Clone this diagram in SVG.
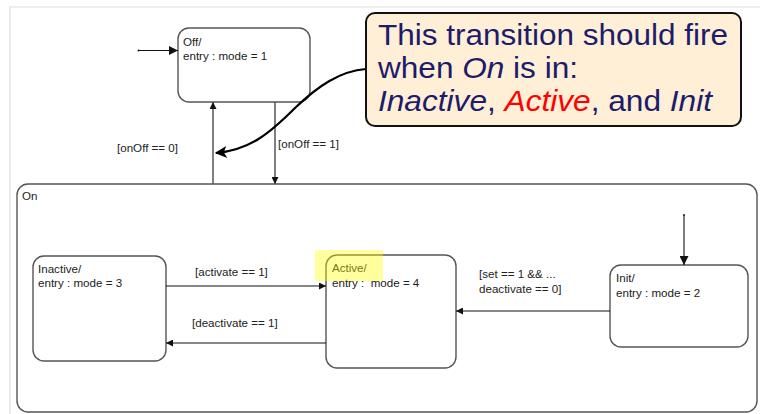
<svg xmlns="http://www.w3.org/2000/svg" width="760" height="414" viewBox="0 0 760 414">
<defs>
<style>
.state{fill:#fff;stroke:#555;stroke-width:1.4}
.lbl{font-family:"Liberation Sans",Arial,sans-serif;font-size:11.6px;fill:#222}
.conn{fill:none;stroke:#111;stroke-width:1.1}
.vconn{fill:none;stroke:#555;stroke-width:1.5}
.call{font-family:"Liberation Sans",Arial,sans-serif;font-size:29px;fill:#1c1c6a}
</style>
<marker id="ah" viewBox="0 0 10 10" refX="10" refY="5" markerWidth="7" markerHeight="7" markerUnits="userSpaceOnUse" orient="auto"><path d="M0,0 L10,5 L0,10 z" fill="#111"/></marker>
<marker id="ahb" viewBox="0 0 10 10" refX="10" refY="5" markerWidth="9" markerHeight="9" markerUnits="userSpaceOnUse" orient="auto"><path d="M0,0 L10,5 L0,10 z" fill="#111"/></marker>
<marker id="ahc" viewBox="0 0 10 10" refX="9" refY="5" markerWidth="14" markerHeight="12" markerUnits="userSpaceOnUse" orient="auto"><path d="M0,0 L10,5 L0,10 L2.5,5 z" fill="#000"/></marker>
</defs>
<rect width="760" height="414" fill="#fff"/>
<path d="M10,414 V7 H760" fill="none" stroke="#ddd" stroke-width="1.2"/>

<g id="On">
<rect class="state" x="17" y="184" width="740" height="228" rx="11"/>
<text class="lbl" x="22" y="200">On</text>
</g>

<g id="Off">
<rect class="state" x="178" y="28" width="132" height="74" rx="11"/>
<text class="lbl" x="183" y="46">Off/</text>
<text class="lbl" x="183" y="60">entry : mode = 1</text>
</g>

<g id="Inactive">
<rect class="state" x="33" y="256" width="133" height="105" rx="11"/>
<text class="lbl" x="38" y="273">Inactive/</text>
<text class="lbl" x="38" y="287">entry : mode = 3</text>
</g>

<g id="Active">
<rect class="state" x="326" y="255" width="130" height="113" rx="11"/>
<text class="lbl" x="332" y="272">Active/</text>
<text class="lbl" x="332" y="287" xml:space="preserve">entry :  mode = 4</text>
<rect x="315" y="250" width="68" height="31" fill="#ffff00" opacity="0.38"/>
</g>

<g id="Init">
<rect class="state" x="610" y="265" width="138" height="82" rx="11"/>
<text class="lbl" x="616" y="282">Init/</text>
<text class="lbl" x="616" y="297">entry : mode = 2</text>
</g>

<g id="connectors">
<circle cx="138.5" cy="50.5" r="1" fill="#111"/>
<path class="conn" d="M138.5,50.5 H178" marker-end="url(#ahb)"/>
<path class="vconn" d="M213,184 V102" marker-end="url(#ah)"/>
<text class="lbl" x="117" y="152">[onOff == 0]</text>
<path class="vconn" d="M275,102 V184" marker-end="url(#ah)"/>
<text class="lbl" x="278" y="148">[onOff == 1]</text>
<path class="conn" d="M166,286 H326" marker-end="url(#ah)"/>
<text class="lbl" x="195" y="276">[activate == 1]</text>
<path class="conn" d="M326,343 H166" marker-end="url(#ah)"/>
<text class="lbl" x="192" y="327">[deactivate == 1]</text>
<circle cx="684" cy="215" r="0.9" fill="#111"/>
<path class="conn" d="M684,215 V265" marker-end="url(#ahb)"/>
<path class="conn" d="M610,311 H456" marker-end="url(#ah)"/>
<text class="lbl" x="479" y="278">[set == 1 &amp;&amp; ...</text>
<text class="lbl" x="479" y="293">deactivate == 0]</text>
<path d="M366,69 C340,71 318,86 295,108 C270,133 250,150 216,153" fill="none" stroke="#000" stroke-width="2.2" marker-end="url(#ahc)"/>
</g>

<g id="callout">
<rect x="366" y="13" width="375" height="113" rx="9" fill="#feefd6" stroke="#111" stroke-width="2"/>
<text class="call" x="378" y="45" textLength="350" lengthAdjust="spacingAndGlyphs">This transition should fire</text>
<text class="call" x="378" y="78" textLength="200" lengthAdjust="spacingAndGlyphs">when <tspan font-style="italic">On</tspan> is in:</text>
<text class="call" x="378" y="111" textLength="334" lengthAdjust="spacingAndGlyphs"><tspan font-style="italic">Inactive</tspan>, <tspan font-style="italic" fill="#ff0000">Active</tspan>, and <tspan font-style="italic">Init</tspan></text>
</g>
</svg>
